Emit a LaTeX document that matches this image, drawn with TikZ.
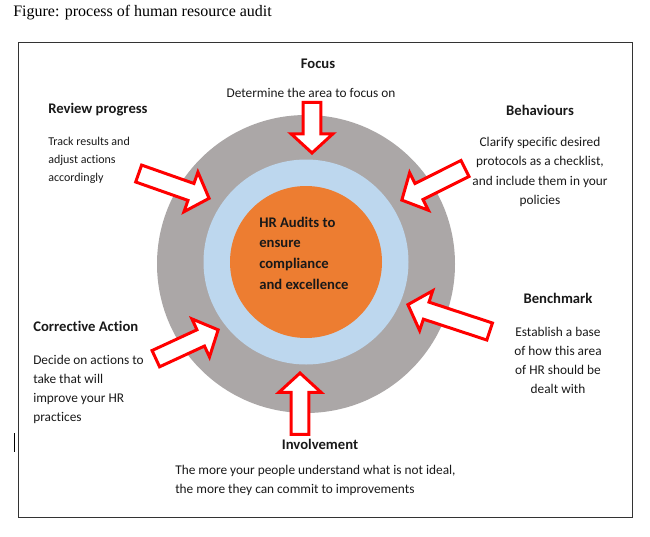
\documentclass[tikz,border=0pt]{standalone}
\usepackage{fontspec}
\setmainfont{Carlito}[Ligatures=NoCommon]
\newfontfamily\capfont{Liberation Serif}
\usetikzlibrary{shapes.arrows}
\definecolor{ringgray}{HTML}{ABA7A7}
\definecolor{ringblue}{HTML}{BDD7EE}
\definecolor{coreorange}{HTML}{ED7D31}

\begin{document}
\begin{tikzpicture}[x=0.75pt,y=-0.75pt,
    head/.style={font=\bfseries\fontsize{11}{13}\selectfont, text=black!90, inner sep=0},
    body/.style={font=\fontsize{10}{14.25}\selectfont, text=black!90, inner sep=0},
    blockarrow/.style={single arrow, draw=red, fill=white, line width=2.25pt, inner xsep=0, inner ysep=5.6pt,
        minimum width=29.25pt, single arrow head extend=9pt, single arrow tip angle=95, anchor=tip}]
    \useasboundingbox (0,0) rectangle (650,536);
    \node[anchor=west, inner sep=0, font=\capfont\fontsize{12}{14}\selectfont] (caption) at (13,13) {Figure: process of human resource audit};
    \draw[line width=0.75pt, black!80] (18,42) rectangle (632,517);
    \draw[line width=0.75pt] (14,433) -- (14,452);
    % rings
    \fill[ringgray] (306,264) circle (149);
    \fill[ringblue] (306,262) circle (102.5);
    \fill[coreorange] (306,262) circle (76);
    \node[head, anchor=west, align=left, font=\bfseries\fontsize{11}{15.5}\selectfont] (core) at (259,253) {HR Audits to\\ensure\\compliance\\and excellence};
    % arrows into the ring
    \node[blockarrow, rotate=-90, minimum height=38pt] (focusarr) at (312,155) {};
    \node[blockarrow, rotate=-19.4, minimum height=56pt] (reviewarr) at (211,199) {};
    \node[blockarrow, rotate=-153.4, minimum height=53pt] (behavarr) at (400,201) {};
    \node[blockarrow, rotate=161.8, minimum height=64.5pt] (bencharr) at (406,304) {};
    \node[blockarrow, rotate=24.8, minimum height=51.5pt] (correctarr) at (220,329) {};
    \node[blockarrow, rotate=90, minimum height=46pt] (involvearr) at (300,371) {};
    % labels
    \node[head] (focus) at (318,64) {Focus};
    \node[body] (focustxt) at (311,93) {Determine the area to focus on};
    \node[head, anchor=west] (review) at (48,110) {Review progress};
    \node[body, anchor=west, align=left, font=\fontsize{9}{13.5}\selectfont] (reviewtxt) at (48,160.5) {Track results and\\adjust actions\\accordingly};
    \node[head] (behav) at (540,110) {Behaviours};
    \node[body, align=center, font=\fontsize{10}{14.6}\selectfont] (behavtxt) at (540,172) {Clarify specific desired\\protocols as a checklist,\\and include them in your\\policies};
    \node[head, anchor=west] (correct) at (33,326) {Corrective Action};
    \node[body, anchor=west, align=left] (correcttxt) at (33,389.5) {Decide on actions to\\take that will\\improve your HR\\practices};
    \node[head] (bench) at (558,298) {Benchmark};
    \node[body, align=center] (benchtxt) at (558,360.5) {Establish a base\\of how this area\\of HR should be\\dealt with};
    \node[head] (involve) at (320,444) {Involvement};
    \node[body, anchor=west, align=left] (involvetxt) at (175,480.5) {The more your people understand what is not ideal,\\the more they can commit to improvements};
\end{tikzpicture}
\end{document}
